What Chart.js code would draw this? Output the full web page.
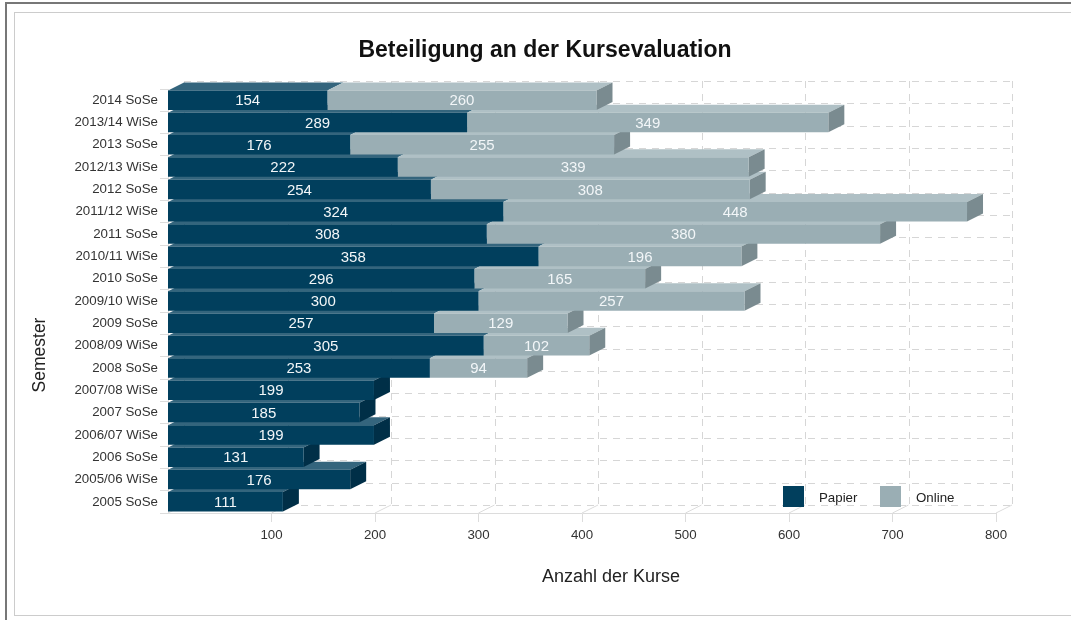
<!DOCTYPE html>
<html>
<head>
<meta charset="utf-8">
<title>Beteiligung an der Kursevaluation</title>
<script src="https://cdn.jsdelivr.net/npm/chart.js@4.4.0/dist/chart.umd.min.js"></script>
<style>
    body { margin: 0; background: #fff; overflow: hidden; }
    #outer { position: absolute; left: 5px; top: 2px; width: 1100px; height: 700px; border-left: 2px solid #777; border-top: 2px solid #777; }
    #inner { position: absolute; left: 14px; top: 12px; width: 1100px; height: 602px; border: 1px solid #ccc; border-right: none; }
    #wrap { position: absolute; left: 0; top: 0; width: 1071px; height: 620px; }
</style>
</head>
<body>
<div id="outer"></div>
<div id="inner"></div>
<div id="wrap"><canvas id="chart" width="1071" height="620"></canvas></div>
<script>
// Semester from top to bottom
const semester = ['2014 SoSe', '2013/14 WiSe', '2013 SoSe', '2012/13 WiSe', '2012 SoSe', '2011/12 WiSe',
    '2011 SoSe', '2010/11 WiSe', '2010 SoSe', '2009/10 WiSe', '2009 SoSe', '2008/09 WiSe', '2008 SoSe',
    '2007/08 WiSe', '2007 SoSe', '2006/07 WiSe', '2006 SoSe', '2005/06 WiSe', '2005 SoSe'];
const papier = [154, 289, 176, 222, 254, 324, 308, 358, 296, 300, 257, 305, 253, 199, 185, 199, 131, 176, 111];
const online = [260, 349, 255, 339, 308, 448, 380, 196, 165, 257, 129, 102, 94, null, null, null, null, null, null];
const xTicks = [100, 200, 300, 400, 500, 600, 700, 800];
const xMax = 800;

const FONT = '"Liberation Sans", Arial, sans-serif';
const DX = 16, DY = 8; // depth of the 3D effect

const colors = {
    papier: { front: '#013f5d', top: '#34657d', side: '#002f47' },
    online: { front: '#9aaeb4', top: '#afc0c5', side: '#7a8b90' }
};

// Back wall grid + top/right faces of the bars
const threeD = {
    id: 'threeD',
    beforeDatasetsDraw(chart) {
        const { ctx, chartArea: a, scales: { x, y } } = chart;
        const step = (a.bottom - a.top) / semester.length;
        ctx.save();
        ctx.lineWidth = 1;
        ctx.strokeStyle = '#d6d6d6';
        ctx.setLineDash([7, 6]);
        for (let k = 0; k <= semester.length; k++) {
            const yy = Math.round(y.getPixelForValue(k) - step / 2 - DY) + 0.5;
            ctx.beginPath();
            ctx.moveTo(a.left + DX, yy);
            ctx.lineTo(a.right + DX, yy);
            ctx.stroke();
        }
        [0, ...xTicks].forEach(v => {
            const px = Math.round(x.getPixelForValue(v) + DX) + 0.5;
            ctx.beginPath();
            ctx.moveTo(px, a.top - DY);
            ctx.lineTo(px, a.bottom - DY);
            ctx.stroke();
        });
        // floor slants
        ctx.setLineDash([]);
        ctx.strokeStyle = '#dcdcdc';
        [0, ...xTicks].forEach(v => {
            const px = x.getPixelForValue(v);
            ctx.beginPath();
            ctx.moveTo(px, a.bottom);
            ctx.lineTo(px + DX, a.bottom - DY);
            ctx.stroke();
        });

        // faces, bottom row first so upper rows cover them
        const keys = ['papier', 'online'];
        for (let i = semester.length - 1; i >= 0; i--) {
            const segs = [];
            chart.data.datasets.forEach((ds, d) => {
                const v = ds.data[i];
                if (v === null || v === 0) return;
                const el = chart.getDatasetMeta(d).data[i];
                const p = el.getProps(['x', 'y', 'base', 'height'], true);
                segs.push({ key: keys[d], l: Math.min(p.x, p.base), r: Math.max(p.x, p.base), t: p.y - p.height / 2, b: p.y + p.height / 2 });
            });
            segs.forEach((s, j) => {
                ctx.fillStyle = colors[s.key].top;
                ctx.beginPath();
                ctx.moveTo(s.l, s.t);
                ctx.lineTo(s.l + DX, s.t - DY);
                ctx.lineTo(s.r + DX, s.t - DY);
                ctx.lineTo(s.r, s.t);
                ctx.closePath();
                ctx.fill();
                if (j === segs.length - 1) {
                    ctx.fillStyle = colors[s.key].side;
                    ctx.beginPath();
                    ctx.moveTo(s.r, s.t);
                    ctx.lineTo(s.r + DX, s.t - DY);
                    ctx.lineTo(s.r + DX, s.b - DY);
                    ctx.lineTo(s.r, s.b);
                    ctx.closePath();
                    ctx.fill();
                }
            });
        }
        ctx.restore();
    }
};

// Values inside the bars
const valueLabels = {
    id: 'valueLabels',
    afterDatasetsDraw(chart) {
        const { ctx } = chart;
        ctx.save();
        ctx.font = '15px ' + FONT;
        ctx.fillStyle = '#f2f6f8';
        ctx.textAlign = 'center';
        ctx.textBaseline = 'middle';
        chart.data.datasets.forEach((ds, d) => {
            chart.getDatasetMeta(d).data.forEach((el, i) => {
                const v = ds.data[i];
                if (v === null) return;
                const p = el.getProps(['x', 'y', 'base'], true);
                ctx.fillText(String(v), (p.x + p.base) / 2, p.y + 1);
            });
        });
        ctx.restore();
    }
};

// Title, axis titles and legend
const extras = {
    id: 'extras',
    afterDraw(chart) {
        const { ctx } = chart;
        ctx.save();
        ctx.textBaseline = 'middle';
        ctx.textAlign = 'center';
        ctx.fillStyle = '#111';
        ctx.font = 'bold 23px ' + FONT;
        ctx.fillText('Beteiligung an der Kursevaluation', 545, 51);
        ctx.fillStyle = '#222';
        ctx.font = '18px ' + FONT;
        ctx.fillText('Anzahl der Kurse', 611, 577);
        ctx.translate(40, 355);
        ctx.rotate(-Math.PI / 2);
        ctx.font = '17.5px ' + FONT;
        ctx.fillText('Semester', 0, 0);
        ctx.restore();

        ctx.save();
        ctx.font = '13.3px ' + FONT;
        ctx.textBaseline = 'middle';
        ctx.textAlign = 'left';
        const legendX = [783, 880];
        chart.data.datasets.forEach((ds, d) => {
            ctx.fillStyle = ds.backgroundColor;
            ctx.fillRect(legendX[d], 486, 21, 21);
            ctx.fillStyle = '#222';
            ctx.fillText(ds.label, legendX[d] + 36, 498);
        });
        ctx.restore();
    }
};

new Chart(document.getElementById('chart'), {
    type: 'bar',
    data: {
        labels: semester,
        datasets: [
            { label: 'Papier', data: papier, backgroundColor: colors.papier.front, borderWidth: 0 },
            { label: 'Online', data: online, backgroundColor: colors.online.front, borderWidth: 0 }
        ]
    },
    options: {
        indexAxis: 'y',
        responsive: false,
        animation: false,
        barPercentage: 0.875,
        categoryPercentage: 1,
        layout: { padding: { left: 20, right: 75, top: 89, bottom: 0 } },
        plugins: {
            legend: { display: false },
            tooltip: { enabled: false },
            title: { display: false }
        },
        scales: {
            x: {
                stacked: true,
                min: 0,
                max: xMax,
                afterFit: s => { s.height = 107; },
                afterBuildTicks: s => { s.ticks = xTicks.map(v => ({ value: v })); },
                grid: { drawOnChartArea: false, drawTicks: true, tickLength: 9, color: '#dcdcdc' },
                border: { display: true, color: '#dcdcdc' },
                ticks: { color: '#333', padding: 5, font: { family: FONT, size: 13.3 } }
            },
            y: {
                stacked: true,
                afterFit: s => { s.width = 148; },
                grid: { drawOnChartArea: false, drawTicks: true, tickLength: 8, color: '#dcdcdc' },
                border: { display: true, color: '#dcdcdc' },
                ticks: { color: '#333', padding: 2, autoSkip: false, font: { family: FONT, size: 13.3 } }
            }
        }
    },
    plugins: [threeD, valueLabels, extras]
});
</script>
</body>
</html>
